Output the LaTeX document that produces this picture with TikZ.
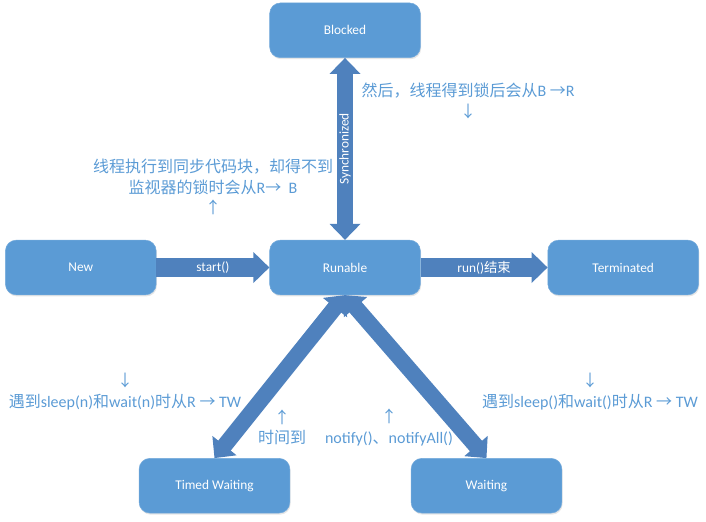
\documentclass[tikz,border=0pt]{standalone}
\usepackage{fontspec}
\setmainfont{Carlito}
\newfontfamily\cjk{Noto Sans CJK SC}
\usetikzlibrary{arrows.meta,positioning,shadows}
\definecolor{boxblue}{HTML}{5B9BD5}
\definecolor{arrblue}{HTML}{4F81BD}
\definecolor{noteblue}{HTML}{5B9BD5}
\newcommand{\lat}[1]{{\rmfamily #1}}
\tikzstyle{state}=[rectangle,rounded corners=8pt,fill=boxblue,draw=boxblue!85!white,minimum width=113pt,minimum height=41pt,inner sep=0pt,text=white,font=\fontsize{10}{12}\selectfont,drop shadow={shadow xshift=0.6pt,shadow yshift=-1.2pt,opacity=0.2}]
\tikzstyle{trans}=[arrblue,line width=14pt,-{Triangle[length=12pt,width=22.5pt]}]
\tikzstyle{both}=[arrblue,line width=12pt,{Triangle[length=12pt,width=22.5pt]}-{Triangle[length=12pt,width=22.5pt]}]
\tikzstyle{lbl}=[text=white,font=\fontsize{10}{12}\selectfont,inner sep=0pt]
\tikzstyle{note}=[text=noteblue,align=center,font=\cjk\fontsize{12}{15.5}\selectfont,inner sep=0pt]

\begin{document}
\begin{tikzpicture}[x=0.75pt,y=-0.75pt]
    \useasboundingbox (0,0) rectangle (706,521);

    % Zustaende
    \node[state] (run) at (345,267.5) {Runable};
    \node[state] (blk) [above=136.5pt of run] {Blocked};
    \node[state] (new) [left=84.75pt of run] {New};
    \node[state] (term) [right=95.25pt of run] {Terminated};
    \node[state] (tw) [below=122.25pt of run, xshift=-97.9pt] {Timed Waiting};
    \node[state] (wt) [below=122.25pt of run, xshift=106.1pt] {Waiting};

    % Uebergaenge
    \draw [trans] (new) -- node[lbl] {start()} (run);
    \draw [trans] (run) -- node[lbl] {run(){\cjk 结束}} (term);
    \draw [both] (run) -- node[lbl, rotate=90] {Synchronized} (blk);
    \draw [both] (run.south) -- (tw.north);
    \draw [both] (run.south) -- (wt.north);

    % Hinweise
    \node[note] (n1) at (468,101) {然后，线程得到锁后会从\lat{B }→\lat{R}\\↓};
    \node[note] (n2) at (213,187) {线程执行到同步代码块，却得不到\\监视器的锁时会从\lat{R}→\lat{\ \ B}\\↑};
    \node[note] (n3) at (125,391.5) {↓\\遇到\lat{sleep(n)}和\lat{wait(n)}时从\lat{R }→\lat{ TW}};
    \node[note] (n4) at (590,391.5) {↓\\遇到\lat{sleep()}和\lat{wait()}时从\lat{R }→\lat{ TW}};
    \node[note] (n5) at (282,427.5) {↑\\时间到};
    \node[note] (n6) at (389,427.5) {↑\\\lat{notify()}、\lat{notifyAll()}};

\end{tikzpicture}
\end{document}
